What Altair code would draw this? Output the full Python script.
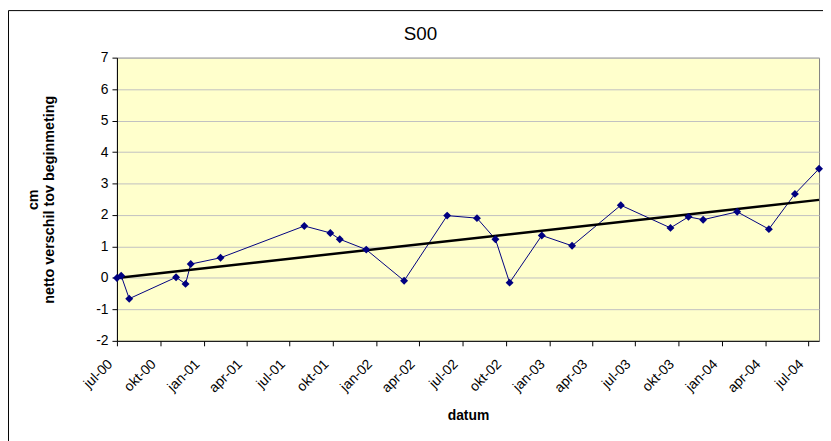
import altair as alt
import pandas as pd

# Measurement dates and net difference (cm) relative to the initial measurement
dates = ["2000-07-01", "2000-07-10", "2000-07-27", "2000-11-03", "2000-11-23", "2000-12-04",
         "2001-02-05", "2001-08-01", "2001-09-25", "2001-10-15", "2001-12-10", "2002-02-28",
         "2002-05-30", "2002-08-01", "2002-09-09", "2002-10-09", "2002-12-16", "2003-02-18",
         "2003-06-01", "2003-09-14", "2003-10-22", "2003-11-22", "2004-02-02", "2004-04-09",
         "2004-06-03", "2004-07-24"]
values = [0.0, 0.07, -0.66, 0.02, -0.19, 0.44,
          0.64, 1.65, 1.43, 1.23, 0.90, -0.09,
          1.98, 1.90, 1.23, -0.15, 1.35, 1.02,
          2.31, 1.59, 1.94, 1.85, 2.10, 1.55,
          2.67, 3.47]

# Linear trend line end points
trend_dates = ["2000-07-01", "2004-07-24"]
trend_values = [0.0, 2.48]

# Tick positions (quarterly)
tick_years_months = [(2000, 7), (2000, 10), (2001, 1), (2001, 4), (2001, 7), (2001, 10),
                     (2002, 1), (2002, 4), (2002, 7), (2002, 10), (2003, 1), (2003, 4),
                     (2003, 7), (2003, 10), (2004, 1), (2004, 4), (2004, 7)]
y_ticks = [-2, -1, 0, 1, 2, 3, 4, 5, 6, 7]

chart_title = "S00"

df = pd.DataFrame({"datum": dates, "v": values})
tdf = pd.DataFrame({"datum": trend_dates, "v": trend_values})

FONT = "Liberation Sans"
NAVY = "#000080"

tick_values = [alt.DateTime(year=y, month=m, date=1, utc=True) for y, m in tick_years_months]
x_scale = alt.Scale(type="utc",
                    domain=[alt.DateTime(year=2000, month=7, date=1, utc=True),
                            alt.DateTime(year=2004, month=7, date=24, utc=True)],
                    nice=False)
y_scale = alt.Scale(domain=[-2, 7], nice=False, zero=False)

label_expr = ("['jan','feb','mrt','apr','mei','jun','jul','aug','sep','okt','nov','dec']"
              "[utcmonth(datum.value)] + '-' + utcFormat(datum.value, '%y')")

x_axis = alt.Axis(values=tick_values, labelExpr=label_expr, labelAngle=-45,
                  labelAlign="right", labelBaseline="middle", labelPadding=16,
                  labelOffset=-7,
                  labelFont=FONT, labelFontSize=14, labelColor="black",
                  tickSize=5, tickColor="black", domainColor="black", grid=False,
                  title="datum", titleFont=FONT, titleFontSize=14, titleFontWeight="bold",
                  titleColor="black", titleY=75, titleBaseline="middle", labelOverlap=False)
y_axis = alt.Axis(values=y_ticks, labelExpr="'' + datum.value",
                  labelFont=FONT, labelFontSize=14, labelColor="black",
                  labelPadding=4, tickSize=5, tickColor="black", domainColor="black",
                  grid=True, gridColor="#C0C0C0", labelOverlap=False, labelBound=False,
                  labelFlush=False,
                  title=["cm", "netto verschil tov beginmeting"], titleFont=FONT,
                  titleFontSize=14.5, titleFontWeight="bold", titleColor="black",
                  titleAngle=-90, titleAlign="center", titleBaseline="middle",
                  titleX=-84.5, titleY=143, titleLineHeight=16)

x_enc = alt.X("datum:T", scale=x_scale, axis=x_axis)
y_enc = alt.Y("v:Q", scale=y_scale, axis=y_axis)

one = pd.DataFrame({"t": [chart_title]})

border = alt.Chart(one).mark_rect(
    filled=False, stroke="black", strokeWidth=1
).encode(x=alt.value(-109.5), x2=alt.value(1200), y=alt.value(-47.5), y2=alt.value(1200))

title = alt.Chart(one).mark_text(font=FONT, fontSize=19, color="black",
                                 align="center", baseline="middle").encode(
    text="t:N", x=alt.value(306.5), y=alt.value(-24))

line = alt.Chart(df).mark_line(color=NAVY, strokeWidth=1).encode(x=x_enc, y=y_enc)
trend = alt.Chart(tdf).mark_line(color="black", strokeWidth=2.5).encode(x=x_enc, y=y_enc)
pts = alt.Chart(df).mark_point(shape="diamond", filled=True, color=NAVY, size=64,
                               opacity=1).encode(x=x_enc, y=y_enc)

chart = alt.layer(border, title, line, trend, pts).properties(
    width=709, height=286,
    autosize=alt.AutoSizeParams(type="none"),
    padding={"left": 110, "top": 48, "right": 4, "bottom": 99},
    background="white",
).configure_view(fill="#FFFFCC", stroke="#808080", strokeWidth=1)

chart.save("out.html", embed_options={"renderer": "svg", "actions": False})
